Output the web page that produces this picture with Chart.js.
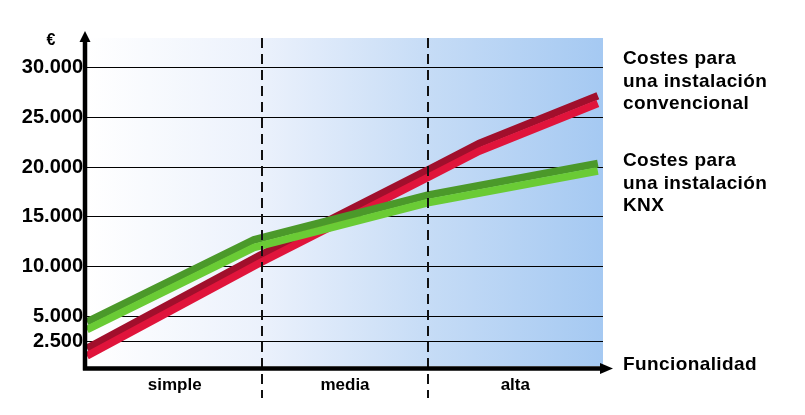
<!DOCTYPE html>
<html>
<head>
<meta charset="utf-8">
<script src="https://cdn.jsdelivr.net/npm/chart.js@4/dist/chart.umd.min.js"></script>
<style>
  html, body { margin: 0; padding: 0; background: #fff; }
  #wrap { width: 805px; height: 415px; }
</style>
</head>
<body>
<div id="wrap"><canvas id="costChart" width="805" height="415"></canvas></div>
<script>
// --- datos ---
const categories = ["simple", "media", "alta"];
const categoryBounds = [0, 1.02, 1.98, 3];
const yTicks = [2500, 5000, 10000, 15000, 20000, 25000, 30000];

const convX = [0, 1.0, 2.0, 2.28, 2.97];
const convY = [1400, 10700, 19500, 22000, 26800];
const knxX = [0, 0.97, 1.98, 2.97];
const knxY = [4050, 12300, 16800, 20000];

const legendConv = ["Costes para", "una instalación", "convencional"];
const legendKnx = ["Costes para", "una instalación", "KNX"];
const xTitle = "Funcionalidad";
const yTitle = "€";

const FONT = "'Liberation Sans', Arial, sans-serif";

const toPoints = (xs, ys) => xs.map((x, i) => ({ x: x, y: ys[i] }));
const labelPos = categories.map((c, i) => (categoryBounds[i] + categoryBounds[i + 1]) / 2);

// cinta "3D": franja oscura arriba, clara abajo
function ribbon(xs, ys, dark, light, order) {
    return [
        { data: toPoints(xs, ys), borderColor: dark, shift: -3.8, order: order + 1 },
        { data: toPoints(xs, ys), borderColor: light, shift: 3.8, order: order }
    ].map((d) => Object.assign(d, {
        borderWidth: 7.6,
        pointRadius: 0,
        tension: 0,
        fill: false,
        clip: false,
        borderCapStyle: "butt",
        borderJoinStyle: "miter"
    }));
}

const extras = {
    id: "extras",
    beforeDraw(chart) {
        const { ctx, chartArea: a } = chart;
        const g = ctx.createLinearGradient(a.left, 0, a.right, 0);
        g.addColorStop(0, "#ffffff");
        g.addColorStop(0.34, "#ebf1fc");
        g.addColorStop(0.66, "#c6dcf6");
        g.addColorStop(1, "#a5c9f2");
        ctx.save();
        ctx.fillStyle = g;
        ctx.fillRect(a.left, a.top, a.right - a.left, a.bottom - a.top);
        ctx.restore();
    },
    beforeDatasetDraw(chart, args) {
        chart.ctx.save();
        chart.ctx.translate(0, chart.data.datasets[args.index].shift || 0);
    },
    afterDatasetDraw(chart) {
        chart.ctx.restore();
    },
    afterDraw(chart) {
        const { ctx, chartArea: a, scales } = chart;
        ctx.save();

        // separadores discontinuos
        ctx.strokeStyle = "#111";
        ctx.lineWidth = 2;
        ctx.setLineDash([10, 6]);
        categoryBounds.slice(1, -1).forEach((v) => {
            const x = Math.round(scales.x.getPixelForValue(v));
            ctx.beginPath();
            ctx.moveTo(x, a.top);
            ctx.lineTo(x, 398);
            ctx.stroke();
        });
        ctx.setLineDash([]);

        // ejes con flecha
        const ax = a.left - 2, ay = a.bottom + 2.5;
        ctx.strokeStyle = "#000";
        ctx.fillStyle = "#000";
        ctx.lineWidth = 4.5;
        ctx.beginPath();
        ctx.moveTo(ax, ay + 2);
        ctx.lineTo(ax, 40);
        ctx.moveTo(ax - 2, ay);
        ctx.lineTo(602, ay);
        ctx.stroke();
        ctx.beginPath();
        ctx.moveTo(ax, 31);
        ctx.lineTo(ax - 5.5, 42);
        ctx.lineTo(ax + 5.5, 42);
        ctx.closePath();
        ctx.fill();
        ctx.beginPath();
        ctx.moveTo(613, ay);
        ctx.lineTo(600, ay - 5.5);
        ctx.lineTo(600, ay + 5.5);
        ctx.closePath();
        ctx.fill();

        // textos
        ctx.font = "bold 19px " + FONT;
        ctx.letterSpacing = "0.4px";
        ctx.textAlign = "left";
        ctx.textBaseline = "alphabetic";
        legendConv.forEach((t, i) => ctx.fillText(t, 623, 64 + i * 22.5));
        legendKnx.forEach((t, i) => ctx.fillText(t, 623, 166 + i * 22.5));
        ctx.fillText(xTitle, 623, 370);
        ctx.letterSpacing = "0px";
        ctx.font = "bold 16px " + FONT;
        ctx.textAlign = "center";
        ctx.fillText(yTitle, 51, 45);
        ctx.restore();
    }
};

new Chart(document.getElementById("costChart"), {
    type: "line",
    data: {
        datasets: [
            ...ribbon(knxX, knxY, "#4b992a", "#6acb35", 0),
            ...ribbon(convX, convY, "#a10f2c", "#e0143b", 10)
        ]
    },
    options: {
        responsive: false,
        animation: false,
        devicePixelRatio: 1,
        layout: { padding: { top: 38, right: 202, left: 0, bottom: 0 } },
        plugins: { legend: { display: false }, tooltip: { enabled: false } },
        scales: {
            x: {
                type: "linear",
                min: 0,
                max: 3,
                afterFit: (s) => { s.height = 49; },
                afterBuildTicks: (s) => { s.ticks = labelPos.map((v) => ({ value: v })); },
                grid: { display: false, drawTicks: false },
                border: { display: false },
                ticks: {
                    padding: 9,
                    color: "#000",
                    font: { family: FONT, size: 17, weight: "bold" },
                    callback: (v, i) => categories[i]
                }
            },
            y: {
                min: 0,
                max: 33000,
                afterFit: (s) => { s.width = 87; },
                afterBuildTicks: (s) => { s.ticks = yTicks.map((v) => ({ value: v })); },
                grid: { color: "#000", lineWidth: 1, drawTicks: false },
                border: { display: false },
                ticks: {
                    padding: 4,
                    color: "#000",
                    font: { family: FONT, size: 20, weight: "bold" },
                    callback: (v) => v.toLocaleString("de-DE")
                }
            }
        }
    },
    plugins: [extras]
});
</script>
</body>
</html>
